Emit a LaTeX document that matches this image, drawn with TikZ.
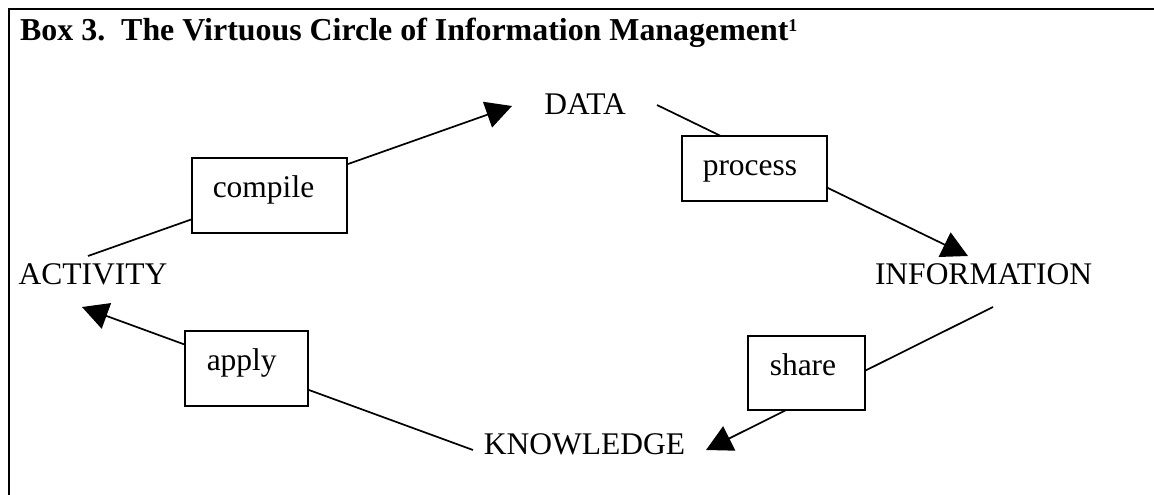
\documentclass[tikz,border=0pt]{standalone}
\usepackage{fontspec}
\setmainfont{Liberation Serif}
\usetikzlibrary{arrows.meta,calc}

\tikzset{
  word/.style={inner sep=0pt, anchor=base, font=\fontsize{31.5}{37}\selectfont},
  flow/.style={line width=1.7pt, -{Triangle[length=26pt,width=27pt]}},
  % label box: #1 = width, #2 = height; baseline 40pt below the top edge
  stepbox/.style 2 args={draw, line width=1.5pt, fill=white, anchor=north west,
    inner sep=0pt, text width=#1, text height=40pt, text depth=#2-40pt,
    align=left, font=\fontsize{31.5}{37}\selectfont}
}

\begin{document}
\begin{tikzpicture}[x=1pt,y=-1pt]
  \useasboundingbox (0,0) rectangle (1154,495);

  % frame of the box
  \draw[line width=1.5pt] (1154,9) -- (9,9) -- (9,495);

  % heading
  \node[inner sep=0pt, anchor=base west, font=\fontsize{31.9}{38}\selectfont\bfseries]
    (title) at (20,41)
    {Box 3.\ \ The Virtuous Circle of Information Management\raisebox{9.6pt}{\fontsize{18}{18}\selectfont 1}};

  % stages of the cycle
  \node[word] (data) at (585,114) {DATA};
  \node[word] (info) at (983.5,284) {INFORMATION};
  \node[word] (know) at (584.5,454) {KNOWLEDGE};
  \node[word] (act)  at (93,284) {ACTIVITY};

  % connectors between the stages
  \draw[flow] ($(act.base)+(-5,-28)$) -- ($(data.base)+(-73,-8)$);
  \draw[flow] ($(data.base)+(72,-9)$) -- ($(info.base)+(-15.5,-28)$);
  \draw[flow] ($(info.base)+(9.5,23)$) -- ($(know.base)+(121.5,-4)$);
  \draw[flow] ($(know.base)+(-111.5,-4)$) -- ($(act.base)+(-11,23)$);

  % actions, boxed on top of the connectors
  \node[stepbox={155pt}{75pt}] (compile) at (191,157) {\hspace*{21pt}compile};
  \node[stepbox={145pt}{65pt}] (process) at (681,135) {\hspace*{21pt}process};
  \node[stepbox={117pt}{74pt}] (share)   at (747,335) {\hspace*{22pt}share};
  \node[stepbox={123pt}{75pt}] (apply)   at (184,330) {\hspace*{22pt}apply};
\end{tikzpicture}
\end{document}
